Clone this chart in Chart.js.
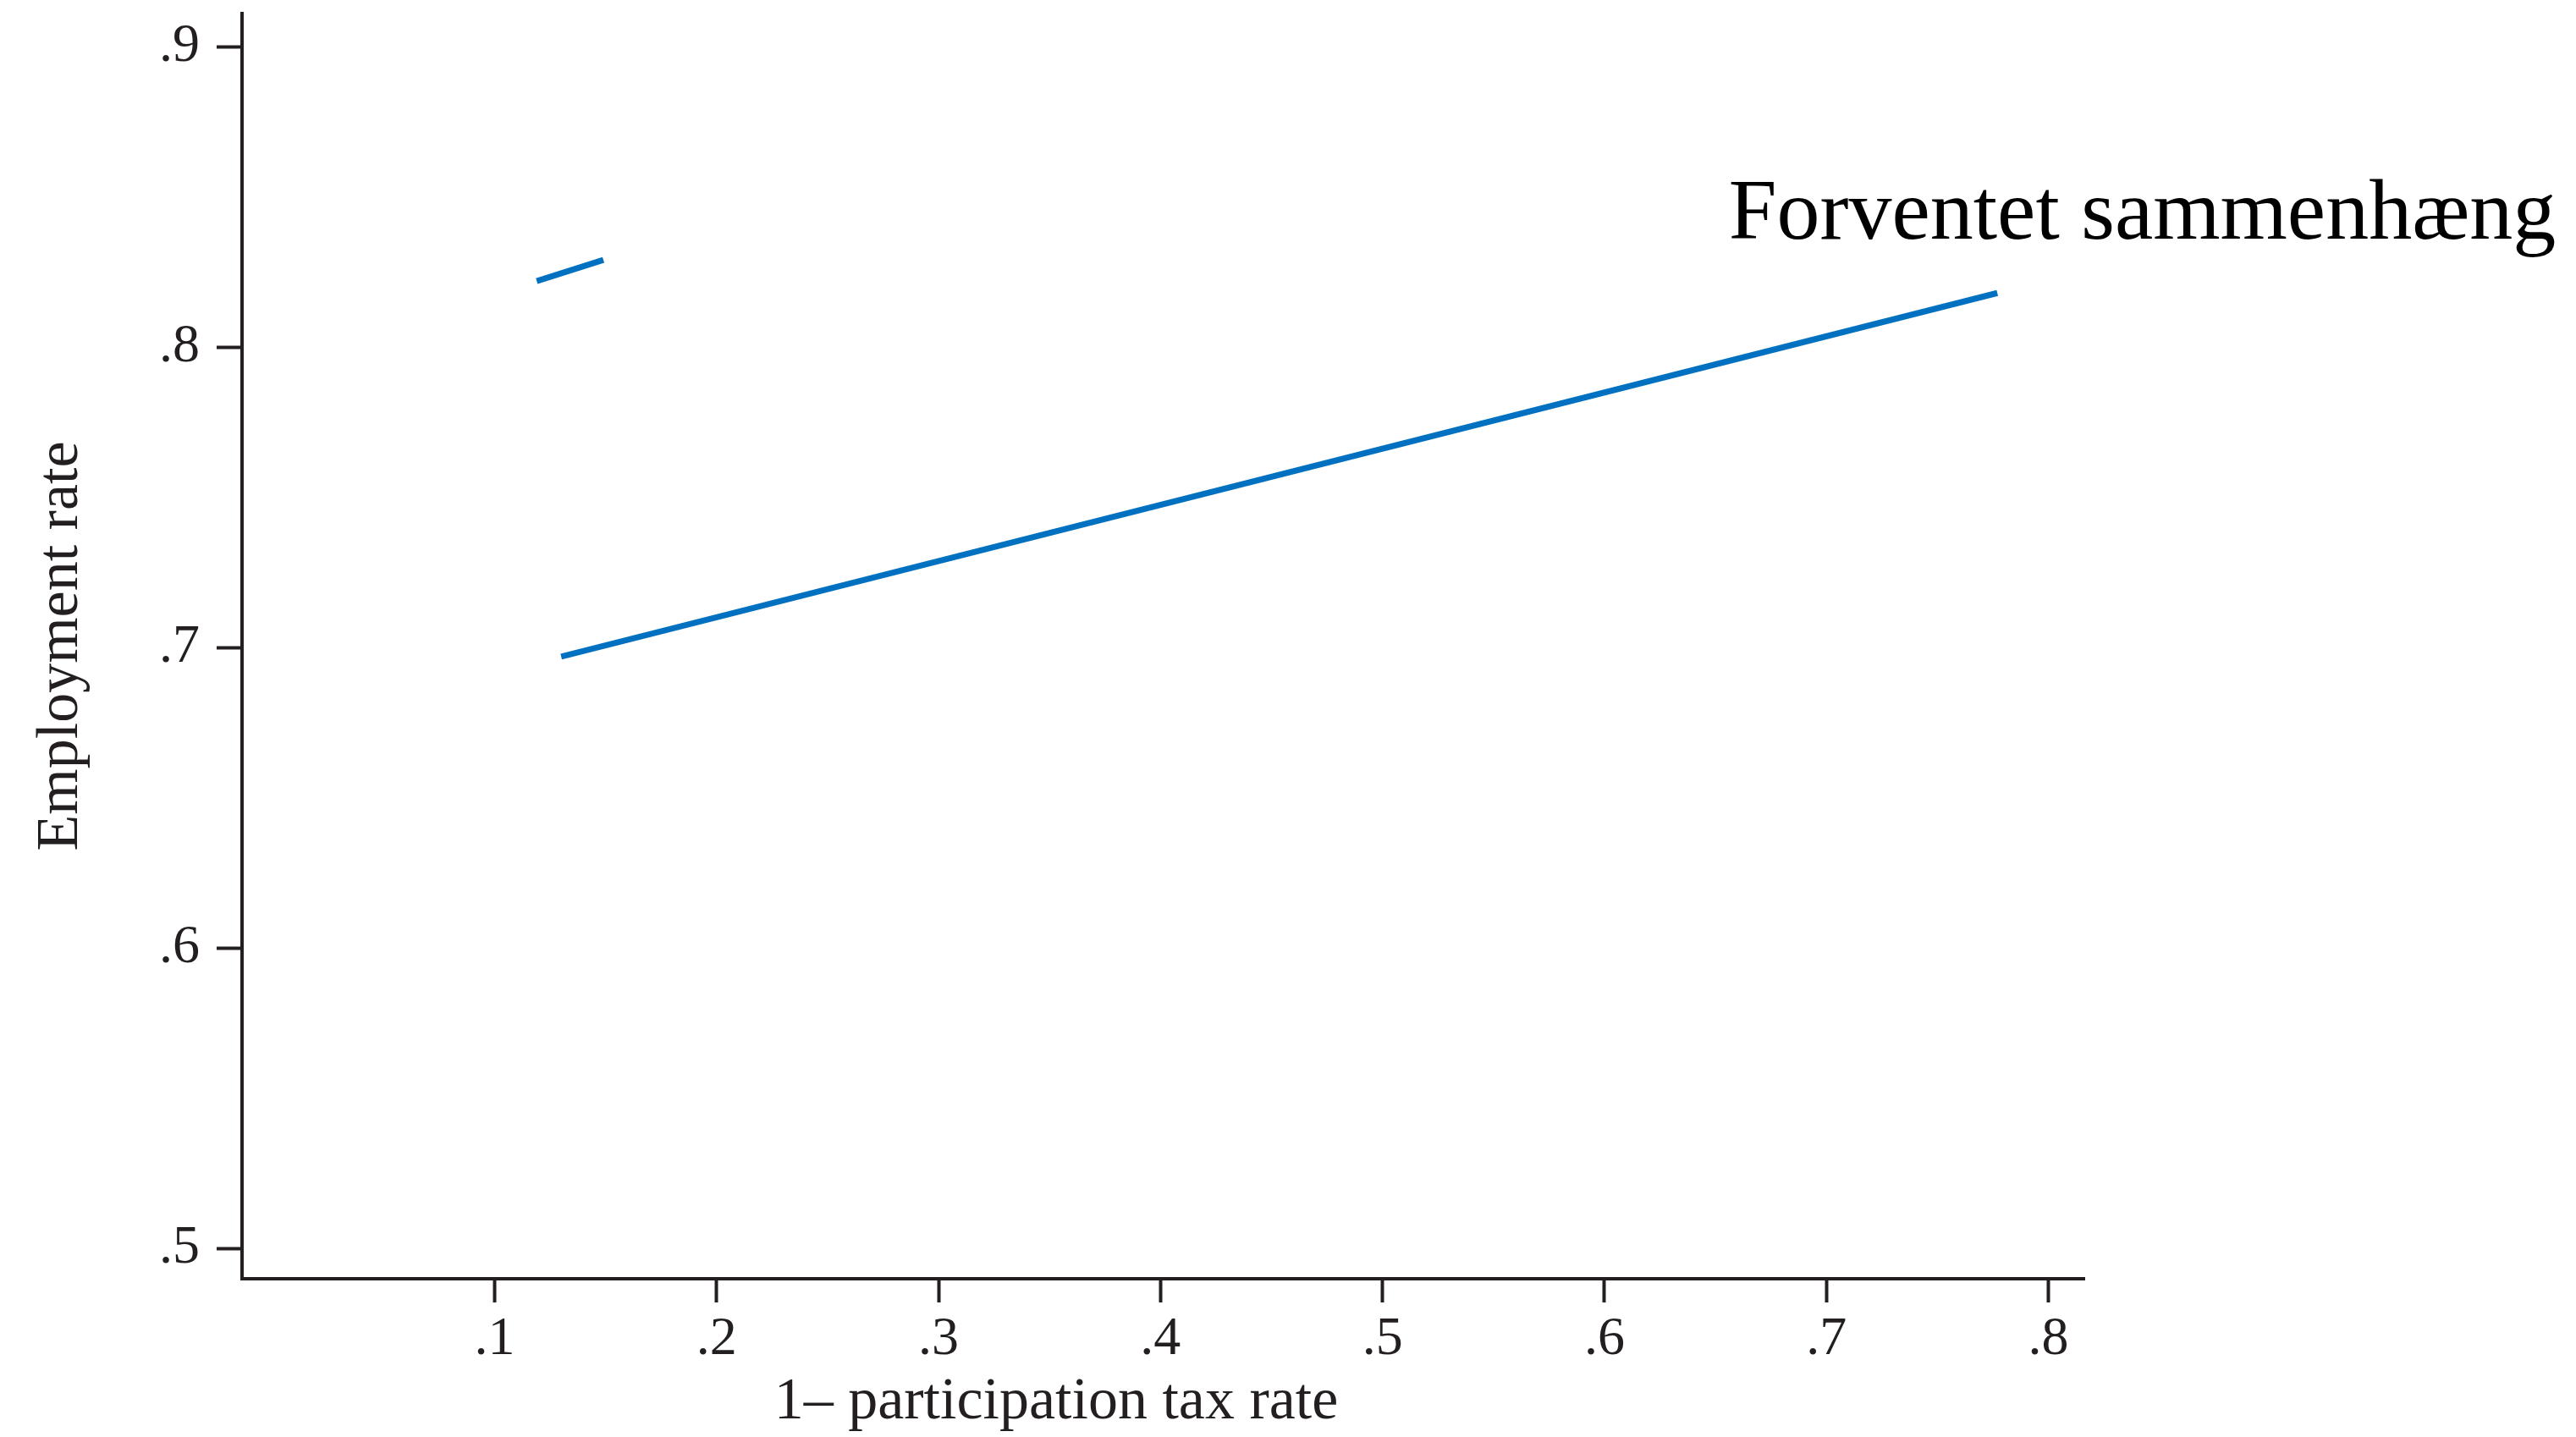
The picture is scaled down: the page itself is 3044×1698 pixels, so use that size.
<!DOCTYPE html>
<html>
<head>
<meta charset="utf-8">
<title>Employment rate vs participation tax</title>
<script src="https://cdn.jsdelivr.net/npm/chart.js@4.4.1/dist/chart.umd.min.js"></script>
<style>
  html, body { margin: 0; padding: 0; background: #fff; }
  #wrap { width: 3044px; height: 1698px; }
</style>
</head>
<body>
<div id="wrap"><canvas id="chart" width="3044" height="1698"></canvas></div>
<script>
// Values
const xTicks = [0.1, 0.2, 0.3, 0.4, 0.5, 0.6, 0.7, 0.8];
const yTicks = [0.5, 0.6, 0.7, 0.8, 0.9];

// Fitted line (long blue line)
const fitX = [0.130, 0.777];
const fitY = [0.697, 0.818];

// Short "expected relationship" stroke
const expX = [0.119, 0.149];
const expY = [0.822, 0.829];

const xTitle = "1\u2013 participation tax rate";
const yTitle = "Employment rate";
const noteText = "Forventet sammenh\u00e6ng";

const axisColor = "#231f20";
const lineColor = "#0070c0";
const serif = "'Liberation Serif', 'Times New Roman', serif";

const toPoints = (xs, ys) => xs.map((x, i) => ({ x: x, y: ys[i] }));
const tickText = (v) => Number(v).toFixed(1).replace(/^0/, "");

// Axis titles and the annotation are drawn by hand so they can sit where the original has them
const textPlugin = {
  id: "extraText",
  afterDraw(chart) {
    const { ctx, chartArea, scales } = chart;
    ctx.save();

    // annotation, anchored in data space
    ctx.fillStyle = "#000";
    ctx.font = "102px " + serif;
    ctx.textAlign = "left";
    ctx.textBaseline = "alphabetic";
    ctx.fillText(noteText, scales.x.getPixelForValue(0.656), scales.y.getPixelForValue(0.836));

    // x title (sits left of centre in the original)
    ctx.fillStyle = axisColor;
    ctx.font = "70px " + serif;
    ctx.textAlign = "center";
    ctx.fillText(xTitle, chartArea.left + 962, chartArea.bottom + 165);

    // y title, rotated
    ctx.translate(chartArea.left - 195, (chartArea.top + chartArea.bottom) / 2);
    ctx.rotate(-Math.PI / 2);
    ctx.fillText(yTitle, 0, 0);

    ctx.restore();
  }
};

const ctx = document.getElementById("chart").getContext("2d");

new Chart(ctx, {
  type: "scatter",
  data: {
    datasets: [
      {
        label: "Fit",
        data: toPoints(fitX, fitY),
        showLine: true,
        borderColor: lineColor,
        borderWidth: 7,
        pointRadius: 0,
        fill: false
      },
      {
        label: "Forventet",
        data: toPoints(expX, expY),
        showLine: true,
        borderColor: lineColor,
        borderWidth: 7,
        pointRadius: 0,
        fill: false
      }
    ]
  },
  options: {
    responsive: false,
    devicePixelRatio: 1,
    animation: false,
    layout: { padding: { top: 16, right: 581, left: 0, bottom: 0 } },
    plugins: {
      legend: { display: false },
      tooltip: { enabled: false }
    },
    scales: {
      x: {
        type: "linear",
        min: -0.0138,
        max: 0.8162,
        afterBuildTicks: (axis) => { axis.ticks = xTicks.map(v => ({ value: v })); },
        afterFit: (axis) => {
          axis.height = 187;
          axis.paddingLeft = 0;
          axis.paddingRight = 0;
        },
        grid: {
          drawOnChartArea: false,
          drawTicks: true,
          tickLength: 28,
          tickWidth: 4,
          tickColor: axisColor
        },
        border: { display: true, color: axisColor, width: 4 },
        ticks: {
          color: axisColor,
          font: { family: serif, size: 64 },
          padding: 6,
          maxRotation: 0,
          autoSkip: false,
          callback: tickText
        }
      },
      y: {
        type: "linear",
        min: 0.49,
        max: 0.911,
        afterBuildTicks: (axis) => { axis.ticks = yTicks.map(v => ({ value: v })); },
        afterFit: (axis) => {
          axis.width = 286;
          axis.paddingTop = 0;
          axis.paddingBottom = 0;
        },
        grid: {
          drawOnChartArea: false,
          drawTicks: true,
          tickLength: 30,
          tickWidth: 4,
          tickColor: axisColor
        },
        border: { display: true, color: axisColor, width: 4 },
        ticks: {
          color: axisColor,
          font: { family: serif, size: 64 },
          padding: 20,
          autoSkip: false,
          callback: tickText
        }
      }
    }
  },
  plugins: [textPlugin]
});
</script>
</body>
</html>
